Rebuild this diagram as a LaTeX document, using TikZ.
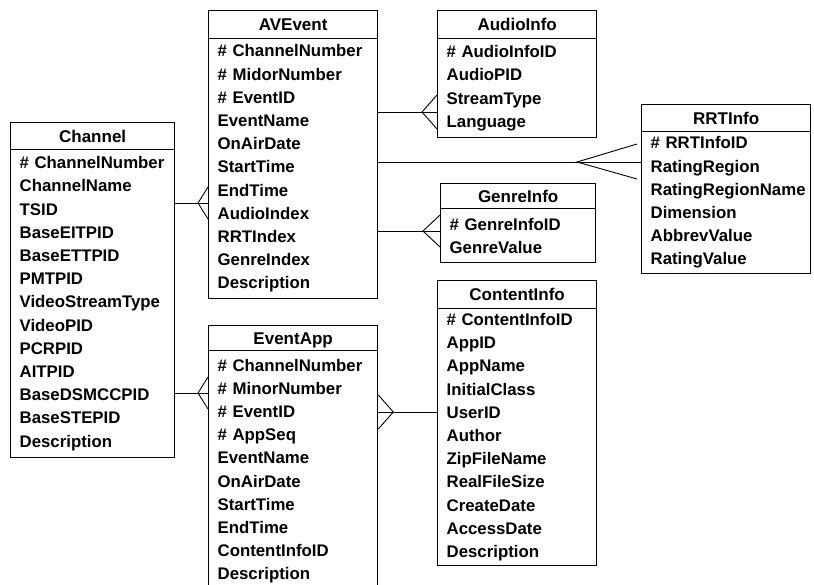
\documentclass[tikz,border=0pt]{standalone}
\usepackage{fontspec}
\setmainfont{Liberation Sans}
\usetikzlibrary{calc}
\hyphenpenalty=10000
\exhyphenpenalty=10000
\tikzset{
  hdr/.style={draw, line width=1.3pt, anchor=north west, inner sep=0pt,
    text height=12.3pt, text depth=0pt,
    font=\bfseries\fontsize{17}{20}\selectfont},
  bdy/.style={draw, line width=1.3pt, anchor=north west, inner xsep=9pt, inner ysep=0pt,
    align=left, font=\bfseries\fontsize{16.8}{23.2}\selectfont},
  conn/.style={line width=0.9pt}
}
\begin{document}
\begin{tikzpicture}[x=1pt,y=-1pt]
\useasboundingbox (0,0) rectangle (814,584);
% Channel
\node[hdr, minimum width=164pt, minimum height=27pt] (ch) at (10,122) {Channel};
\node[bdy, text width=146pt, minimum height=308pt] (chb) at (10,149)
 {\#~ChannelNumber\\ChannelName\\TSID\\BaseEITPID\\BaseETTPID\\PMTPID\\VideoStreamType\\VideoPID\\PCRPID\\AITPID\\BaseDSMCCPID\\BaseSTEPID\\Description};
% AVEvent
\node[hdr, minimum width=169pt, minimum height=28pt] (av) at (208,10) {AVEvent};
\node[bdy, text width=151pt, minimum height=260pt] (avb) at (208,38)
 {\#~ChannelNumber\\\#~MidorNumber\\\#~EventID\\EventName\\OnAirDate\\StartTime\\EndTime\\AudioIndex\\RRTIndex\\GenreIndex\\Description};
% AudioInfo
\node[hdr, minimum width=159pt, minimum height=28pt] (au) at (437,10) {AudioInfo};
\node[bdy, text width=141pt, minimum height=99pt] (aub) at (437,38)
 {\#~AudioInfoID\\AudioPID\\StreamType\\Language};
% RRTInfo
\node[hdr, minimum width=169pt, minimum height=27pt] (rr) at (641,104) {RRTInfo};
\node[bdy, text width=151pt, minimum height=142pt] (rrb) at (641,131)
 {\#~RRTInfoID\\RatingRegion\\RatingRegionName\\Dimension\\AbbrevValue\\RatingValue};
% GenreInfo
\node[hdr, minimum width=155pt, minimum height=25pt] (gi) at (440,183) {GenreInfo};
\node[bdy, text width=137pt, minimum height=54pt] (gib) at (440,208)
 {\#~GenreInfoID\\GenreValue};
% ContentInfo
\node[hdr, minimum width=159pt, minimum height=28pt] (ci) at (437,280) {ContentInfo};
\node[bdy, text width=141pt, minimum height=257pt] (cib) at (437,308)
 {\#~ContentInfoID\\AppID\\AppName\\InitialClass\\UserID\\Author\\ZipFileName\\RealFileSize\\CreateDate\\AccessDate\\Description};
% EventApp
\node[hdr, minimum width=169pt, minimum height=25pt] (ea) at (208,325) {EventApp};
\node[bdy, text width=151pt, minimum height=241pt] (eab) at (208,350)
 {\#~ChannelNumber\\\#~MinorNumber\\\#~EventID\\\#~AppSeq\\EventName\\OnAirDate\\StartTime\\EndTime\\ContentInfoID\\Description};
% connectors
\coordinate (c1) at (avb.west |- 0,203);
\draw[conn] (chb.east |- 0,203) -- (c1);
\draw[conn] ($(c1)+(0,-16)$) -- ($(c1)+(-10,0)$) -- ($(c1)+(0,16)$);
\coordinate (c2) at (eab.west |- 0,393);
\draw[conn] (chb.east |- 0,393) -- (c2);
\draw[conn] ($(c2)+(0,-16)$) -- ($(c2)+(-10,0)$) -- ($(c2)+(0,16)$);
\coordinate (c3) at (aub.west |- 0,112);
\draw[conn] (avb.east |- 0,112) -- (c3);
\draw[conn] ($(c3)+(0,-17)$) -- ($(c3)+(-15,0)$) -- ($(c3)+(0,17)$);
\coordinate (c4) at (rrb.west |- 0,162);
\draw[conn] (avb.east |- 0,162) -- (c4);
\draw[conn] ($(c4)+(-4,-18)$) -- ($(c4)+(-64,0)$) -- ($(c4)+(-4,17)$);
\coordinate (c5) at (gib.west |- 0,231);
\draw[conn] (avb.east |- 0,231) -- (c5);
\draw[conn] ($(c5)+(0,-16)$) -- ($(c5)+(-17,0)$) -- ($(c5)+(0,16)$);
\coordinate (c6) at (eab.east |- 0,412);
\draw[conn] (c6) -- (cib.west |- 0,412);
\draw[conn] ($(c6)+(0,-17)$) -- ($(c6)+(15,0)$) -- ($(c6)+(0,17)$);
\end{tikzpicture}
\end{document}
